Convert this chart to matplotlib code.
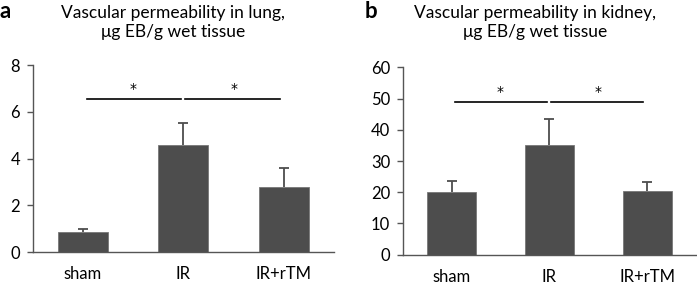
import matplotlib
matplotlib.use("Agg")
import matplotlib.pyplot as plt
import numpy as np

plt.rcParams['font.family'] = ['Lato', 'DejaVu Sans']

groups = ["sham", "IR", "IR+rTM"]

lung_mean = [0.85, 4.6, 2.8]
lung_err = [0.15, 0.93, 0.78]
kidney_mean = [20.2, 35.2, 20.3]
kidney_err = [3.4, 8.3, 3.0]

lung_sig = 6.55
kidney_sig = 49.0

W, H = 697, 286
fig = plt.figure(figsize=(W / 100, H / 100), dpi=100)

bar_color = "#4d4d4d"
axis_color = "#555555"


def panel(rect, means, errs, ymax, step, sig_y, letter, letter_x, title, title_x):
    ax = fig.add_axes(rect)
    x = np.arange(len(groups))
    eb = ax.errorbar(x, means, yerr=[np.zeros(len(errs)), errs], fmt="none",
                     ecolor=bar_color, elinewidth=1.3, capsize=3.5, capthick=1.3, zorder=1)
    # hide the lower cap, only the upper half of the error bar is shown
    eb[1][0].set_visible(False)
    ax.bar(x, means, width=0.5, color=bar_color, edgecolor="#777777", linewidth=0.6, zorder=2)
    ax.set_xlim(-0.5, len(groups) - 0.5)
    ax.set_ylim(0, ymax)
    ax.set_yticks(np.arange(0, ymax + step / 2, step))
    ax.set_xticks(x)
    ax.set_xticklabels(groups)
    for s in ["top", "right"]:
        ax.spines[s].set_visible(False)
    for s in ["left", "bottom"]:
        ax.spines[s].set_color(axis_color)
        ax.spines[s].set_linewidth(1.0)
    ax.tick_params(axis="y", direction="out", length=4.5, width=1.0, color=axis_color,
                   labelsize=12, pad=4.5)
    ax.tick_params(axis="x", length=0, labelsize=12, pad=10)
    # significance lines
    gap = 0.02
    ax.plot([0.04, 1 - gap], [sig_y, sig_y], color="black", lw=1.2, zorder=3)
    ax.plot([1 + gap, 1.96], [sig_y, sig_y], color="black", lw=1.2, zorder=3)
    for sx in (0.5, 1.5):
        ax.annotate("*", (sx, sig_y), xytext=(0, 2), textcoords="offset points",
                    ha="center", va="bottom", fontsize=10, family="DejaVu Sans")
    fig.text(letter_x / W, 1 - 11 / H, letter, fontsize=16, fontweight="bold",
             ha="left", va="center")
    fig.text(title_x / W, 1 - 22.5 / H, title, fontsize=12.5, ha="center", va="center",
             linespacing=1.25)
    return ax


panel([32.7 / W, 1 - 252.3 / H, (334 - 32.7) / W, (252.3 - 65) / H],
      lung_mean, lung_err, 8, 2, lung_sig, "a", 0,
      "Vascular permeability in lung,\nμg EB/g wet tissue", 173)
panel([402.7 / W, 1 - 254.7 / H, (696 - 402.7) / W, (254.7 - 67.3) / H],
      kidney_mean, kidney_err, 60, 10, kidney_sig, "b", 365,
      "Vascular permeability in kidney,\nμg EB/g wet tissue", 535)

fig.savefig("out.png", dpi=100)
